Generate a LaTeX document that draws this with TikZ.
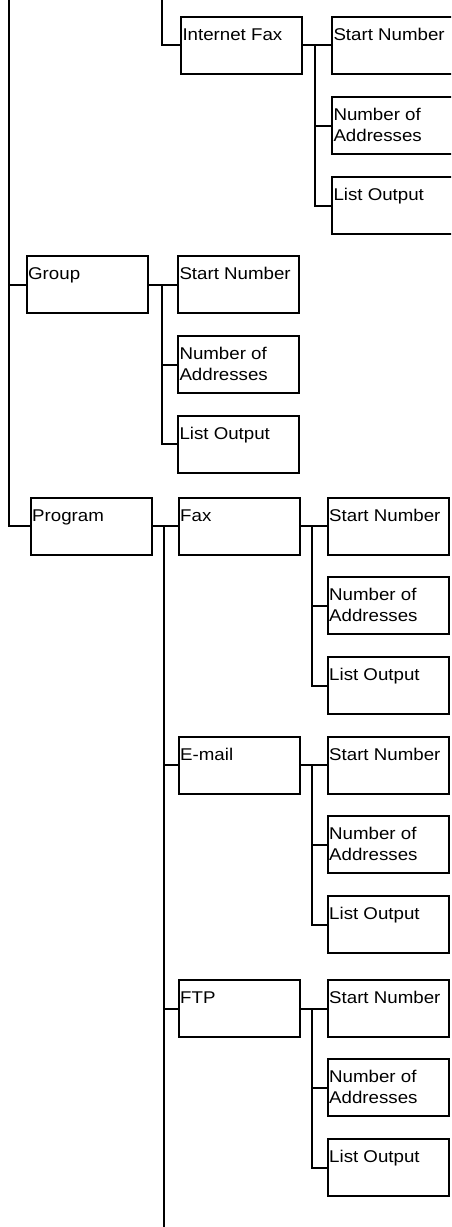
\documentclass[tikz,border=0pt]{standalone}
\usepackage{fontspec}
\setmainfont{Liberation Sans}[FakeStretch=1.1]
\tikzset{
  bx/.style={draw, line width=2pt, rectangle, anchor=north west,
    inner xsep=1.5pt, inner ysep=0pt, font=\fontsize{17}{20.5}\selectfont},
  ln/.style={line width=2pt}
}
\newcommand{\bxt}[1]{\parbox[t][57pt][t]{118pt}{\raggedright\rule{0pt}{23.5pt}#1}}
\begin{document}
\begin{tikzpicture}[x=1pt,y=-1pt]
\clip (0,0) rectangle (451,1227);
% Internet Fax block
\node[bx] (ifax) at (180,15.7) {\bxt{Internet Fax}};
\node[bx] (if1) at (331,15.7) {\bxt{Start Number}};
\node[bx] (if2) at (331,96) {\bxt{Number of\\Addresses}};
\node[bx] (if3) at (331,176) {\bxt{List Output}};
% Group block
\node[bx] (group) at (25.7,255) {\bxt{Group}};
\node[bx] (g1) at (177,255) {\bxt{Start Number}};
\node[bx] (g2) at (177,335) {\bxt{Number of\\Addresses}};
\node[bx] (g3) at (177,414.7) {\bxt{List Output}};
% Program block
\node[bx] (prog) at (29.7,496.7) {\bxt{Program}};
\node[bx] (fax) at (177.7,496.7) {\bxt{Fax}};
\node[bx] (f1) at (326.7,496.7) {\bxt{Start Number}};
\node[bx] (f2) at (326.7,576) {\bxt{Number of\\Addresses}};
\node[bx] (f3) at (326.7,656) {\bxt{List Output}};
\node[bx] (email) at (177.7,735.7) {\bxt{E-mail}};
\node[bx] (e1) at (326.7,735.7) {\bxt{Start Number}};
\node[bx] (e2) at (326.7,815) {\bxt{Number of\\Addresses}};
\node[bx] (e3) at (326.7,895) {\bxt{List Output}};
\node[bx] (ftp) at (177.7,979) {\bxt{FTP}};
\node[bx] (t1) at (326.7,979) {\bxt{Start Number}};
\node[bx] (t2) at (326.7,1058) {\bxt{Number of\\Addresses}};
\node[bx] (t3) at (326.7,1138) {\bxt{List Output}};
% bus coordinates
\coordinate (mtop) at (9,0);
\coordinate (itop) at (162,0);
\coordinate (ib) at (315,0);
\coordinate (gb) at (162,0);
\coordinate (pb) at (163.7,0);
\coordinate (pend) at (163.7,1227);
\coordinate (fb) at (312,0);
% main left line
\draw[ln] (mtop) |- (group.west);
\draw[ln] (mtop) |- (prog.west);
% Internet Fax
\draw[ln] (itop) |- (ifax.west);
\draw[ln] (ifax.east) -- (if1.west);
\draw[ln] (ib |- ifax.east) |- (if2.west);
\draw[ln] (ib |- ifax.east) |- (if3.west);
% Group
\draw[ln] (group.east) -- (g1.west);
\draw[ln] (gb |- group.east) |- (g2.west);
\draw[ln] (gb |- group.east) |- (g3.west);
% Program
\draw[ln] (prog.east) -- (fax.west);
\draw[ln] (pb |- prog.east) -- (pend);
\draw[ln] (pb |- email.west) -- (email.west);
\draw[ln] (pb |- ftp.west) -- (ftp.west);
% Fax
\draw[ln] (fax.east) -- (f1.west);
\draw[ln] (fb |- fax.east) |- (f2.west);
\draw[ln] (fb |- fax.east) |- (f3.west);
% E-mail
\draw[ln] (email.east) -- (e1.west);
\draw[ln] (fb |- email.east) |- (e2.west);
\draw[ln] (fb |- email.east) |- (e3.west);
% FTP
\draw[ln] (ftp.east) -- (t1.west);
\draw[ln] (fb |- ftp.east) |- (t2.west);
\draw[ln] (fb |- ftp.east) |- (t3.west);
\end{tikzpicture}
\end{document}
